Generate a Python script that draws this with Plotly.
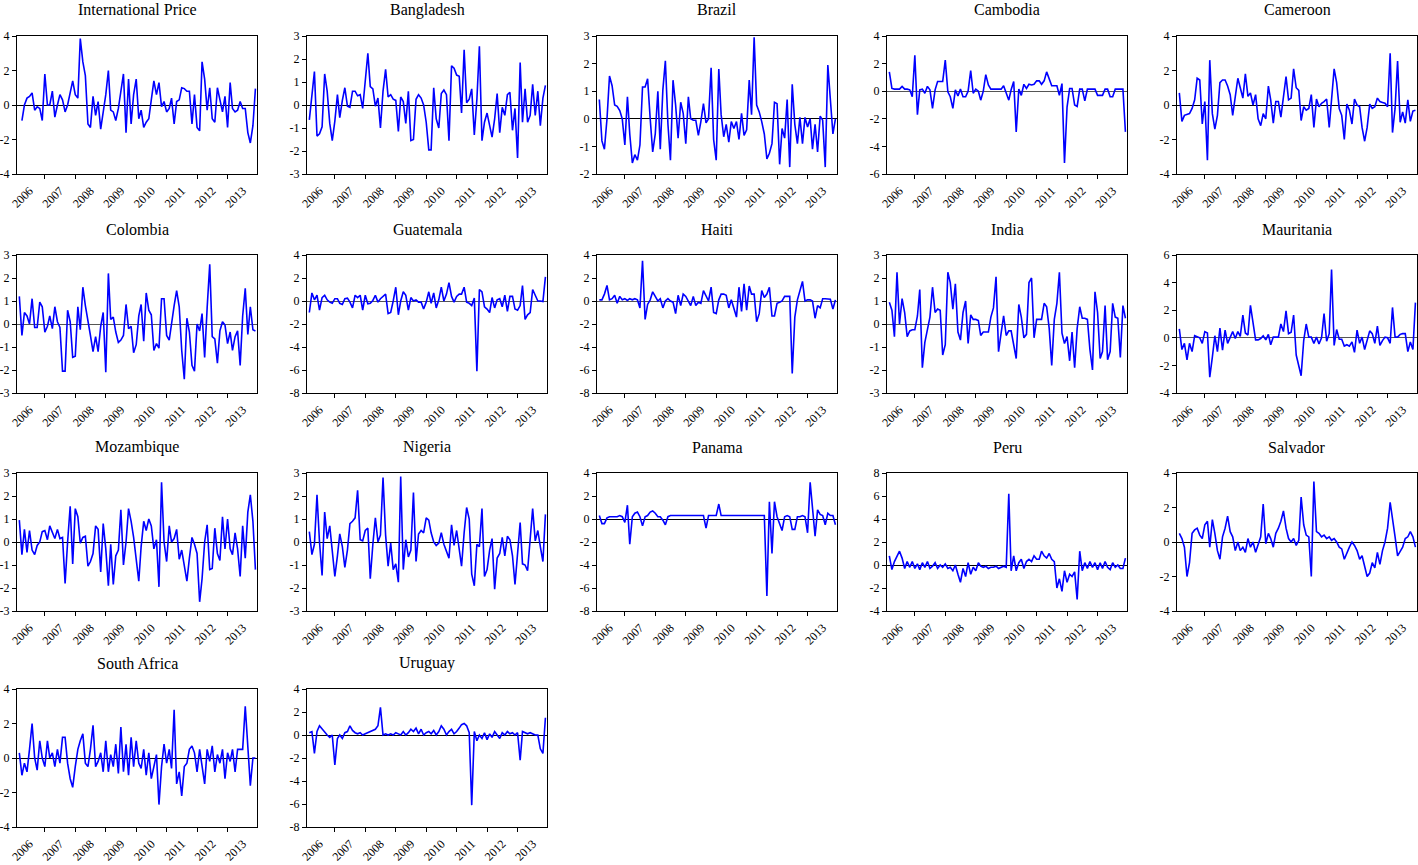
import plotly.graph_objects as go
import pandas as pd

# ---------------- data (monthly, ending 2013M12) ----------------
intl_price = [-0.9, 0, 0.4, 0.5, 0.7, -0.3, -0.1, -0.2, -0.9, 1.8,
              0.0, 0, 0.8, -0.7, 0, 0.6, 0.3, -0.4, 0, 0.7,
              1.4, 0.6, 0.4, 3.85, 2.5, 1.7, -1.1, -1.3, 0.5, -0.6,
              0.2, -1.4, -0.4, 0.6, 2.0, -0.3, -0.4, -0.9, -0.2, 0.9,
              1.8, -1.6, 1.5, -1.1, 0.6, 1.5, -0.8, -0.3, -1.3, -1.0,
              -0.8, 0.3, 1.4, 0.6, 1.3, -0.1, 0.2, -0.4, -0.2, 0.4,
              -1.1, 0.2, 0.3, 1.0, 0.95, 0.8, 0.8, -1.1, 0.6, -1.3,
              -1.5, 2.5, 1.5, -0.3, 1.0, -0.8, -1.0, 1.0, 0.4, -0.4,
              0.5, -1.3, 1.3, -0.2, -0.4, -0.3, 0.2, -0.2, -0.2, -1.6,
              -2.2, -1.2, 0.95]
bangladesh = [-0.65, 0.45, 1.45, -1.35, -1.25, -0.95, 1.35, 0.6, -0.8, -1.55,
              -0.7, 0.45, -0.55, 0.2, 0.75, -0.05, -0.1, 0.6, 0.6, 0.4,
              0.45, -0.15, 1.0, 2.25, 0.8, 0.7, -0.05, 0.3, -1.0, 0.6,
              1.55, 0.35, 0.45, 0.25, 0.2, -1.15, 0.35, 0.15, -0.8, 0.6,
              -1.55, -1.5, 0.25, 0.45, 0.3, 0.0, -0.75, -1.95, -1.95, 0.75,
              -0.6, -1.0, 0.5, 0.65, 0.45, -1.55, 1.7, 1.6, 1.3, 1.25,
              -0.35, 2.4, 0.1, 0.25, 0.7, -1.3, 0.25, 2.55, -1.55, -0.75,
              -0.35, -0.85, -1.4, -0.6, 0.5, -1.2, -0.1, -0.45, 0.45, 0.55,
              -1.1, -0.15, -2.3, 1.85, -0.75, 0.7, -0.75, -0.45, 0.9, -0.45,
              0.6, -0.9, 0.3, 0.85]
brazil = [0.7, -0.8, -1.1, 0, 1.55, 1.2, 0.5, 0.45, 0.3, 0,
          -0.95, 0.8, -0.55, -1.6, -1.3, -1.5, -0.95, 1.15, 1.15, 1.45,
          0, -1.2, -0.55, 1.0, -1.1, 1.05, 2.1, -0.2, -1.5, 1.4,
          0.5, -0.7, 0.6, 0.2, -0.9, 0.8, 0, -0.05, -0.05, -0.6,
          -0.1, 0.55, -0.15, 0, 1.85, -0.75, -1.5, 1.8, 0.15, -0.65,
          -0.2, -0.85, -0.1, -0.35, -0.1, -0.75, 0.2, -0.6, -0.4, 1.4,
          0.15, 2.95, 0.5, 0.25, -0.1, -0.55, -1.45, -1.25, -0.9, 0.6,
          0.55, -1.65, -0.35, -0.7, 0.7, -1.75, 1.25, -0.2, -0.9, 0.05,
          -0.9, 0.05, -0.3, 0, -1.1, -0.2, -1.2, 0.1, -0.05, -1.75,
          1.95, 0.75, -0.55, 0]
cambodia = [1.4, 0.2, 0.15, 0.15, 0.15, 0.35, 0.15, 0.15, 0.1, -0.4,
            2.6, -1.7, 0.1, 0.15, -0.15, 0.35, 0.1, -1.25, 0.1, 0.7,
            0.7, 0.7, 2.25, -0.05, -0.4, -1.25, 0.1, -0.35, 0.15, -0.4,
            -0.4, 0, 1.5, -0.15, 0.15, 0, -0.65, 0, 1.2, 0.45,
            0.15, 0.15, 0.15, 0.15, 0.15, 0.4, -0.1, -0.65, 0.1, 0.7,
            -2.95, 0.15, -0.3, 0.5, 0.2, 0.5, 0.45, 0.5, 0.75, 0.75,
            0.5, 0.75, 1.4, 0.9, 0.4, 0.4, 0.4, -0.3, 0.55, -5.2,
            -1.15, 0.2, 0.2, -1.0, -1.1, 0.15, 0.15, -0.7, 0.15, 0.15,
            0.15, 0.15, -0.3, -0.3, -0.3, 0.15, 0.15, -0.4, -0.4, 0.15,
            0.15, 0.15, 0.15, -2.95]
cameroon = [0.7, -0.95, -0.6, -0.55, -0.5, -0.2, 0.3, 1.55, 1.45, -1.1,
            0.2, -3.2, 2.6, -0.5, -1.4, -0.6, 1.3, 1.45, 1.45, 1.1,
            0.6, -0.6, 0.6, 1.55, 1.0, 0.4, 1.8, 0.5, 0.7, 0.0,
            0.6, -0.8, -1.2, -0.5, -0.8, 1.1, 0.3, -1.05, 0.2, 0.2,
            -0.7, 0.5, 1.65, 0.3, 0.4, 2.1, 1.0, 0.85, -0.9, -0.1,
            -0.3, -0.2, 0.6, -1.3, 0.35, -0.1, 0.1, 0.2, 0.35, -1.3,
            0.3, 2.1, 1.3, -0.2, -0.6, -2.0, 0.05, -0.3, -1.1, 0.35,
            0.0, -0.1, -1.3, -2.1, -1.3, 0.05, -0.2, -0.1, 0.4, 0.2,
            0.15, 0.1, -0.1, 3.0, -1.6, -0.2, 2.55, -1.0, -0.4, -1.05,
            0.3, -0.95, -0.35, -0.3]
colombia = [1.2, -0.5, 0.5, 0.35, 0.0, 1.1, -0.15, -0.15, 0.95, 0.75,
            -0.35, -0.1, 0.35, -0.2, 0.75, 0.1, -0.15, -2.05, -2.05, 0.6,
            0.1, -1.45, -1.4, 0.75, -0.25, 1.6, 0.8, 0.05, -0.5, -1.2,
            -0.55, -1.2, -0.1, 0.5, -2.1, 2.2, 0.2, 0.3, -0.35, -0.8,
            -0.7, -0.5, 0.85, -0.2, -0.1, -1.25, -0.9, 0.35, 0.85, -0.75,
            1.35, 0.6, 0.4, -1.15, -0.85, -1.05, 1.1, 1.1, -0.5, -0.7,
            0.1, 0.8, 1.45, 0.75, -1.15, -2.4, 0.25, -0.35, -1.8, -2.05,
            0.0, -0.3, 0.45, -1.45, 0.7, 2.6, -0.55, -0.65, -1.7, -0.3,
            0.1, -0.05, -0.85, -0.35, -1.15, -0.55, -0.3, -1.8, 0.35, 1.55,
            -0.45, 0.75, -0.25, -0.3]
guatemala = [-1.0, 0.7, 0.1, 0.5, -0.8, 0.3, 0.5, 0.1, -0.1, -0.2,
             0.2, 0.2, -0.2, -0.3, 0.2, 0.25, -0.1, -0.6, 0.5, 0.3,
             0.5, -0.8, 0.5, -0.25, -0.2, 0.05, 0.5, -0.1, 0.2, 0.4,
             0.6, -1.1, -1.0, 0.0, 1.2, -1.2, 0.0, 0.8, 0.5, -0.8,
             0.3, 0.0, 0.1, -0.1, -0.1, -0.7, -0.1, 0.8, -0.2, 0.7,
             -0.6, 0.1, 1.2, 0.0, 0.6, 1.6, 0.4, -0.1, 0.4, 0.6,
             0.6, 1.2, -0.1, -0.2, -0.4, 0.25, -6.1, 1.0, 0.8, -0.5,
             -0.7, -1.0, 0.3, -0.6, 0.1, 0.2, -0.5, 0.5, -0.9, 0.4,
             0.4, -0.7, -0.8, -0.4, 1.35, -1.6, -1.2, -1.0, 1.0, 0.5,
             0.0, 0.0, -0.05, 2.1]
haiti = [0.1, 0.1, 0.6, 1.35, 0.1, 0.2, 0.5, -0.2, 0.4, 0.1,
         0.2, 0.05, 0.2, 0.1, 0.2, 0.1, -0.6, 3.5, -1.6, -0.3,
         0.1, 0.8, 0.4, 0.0, 0.2, -0.6, 0.0, 0.2, 0.0, -0.1,
         -1.1, 0.5, -0.4, 0.6, 0.4, 0.0, -0.4, 0.4, -0.4, -0.1,
         -0.2, 0.9, 0.5, 0.0, 1.2, -1.0, -1.1, 0.1, 0.6, 0.6,
         0.5, -0.6, 0.1, -0.6, -1.4, 1.2, -0.9, 1.5, -0.8, 1.3,
         0.6, 0.6, -1.8, -1.1, 0.9, 0.3, 0.6, 1.2, -1.3, -1.3,
         -0.2, -0.1, 0.0, 0.4, 0.4, 0.4, -6.3, -1.4, 0.1, 1.0,
         1.7, 0.0, 0.1, 0.1, 0.0, -1.5, -0.4, -0.6, 0.2, 0.2,
         0.15, 0.15, -0.7, 0.1]
india = [0.95, 0.6, -0.55, 2.25, 0.0, 1.1, 0.5, -0.55, -0.3, -0.25,
         -0.25, 0.35, 1.5, -1.9, -0.8, -0.3, 0.3, 1.6, 0.5, 0.65,
         0.6, -1.35, -0.9, 2.25, 1.8, 0.65, 1.75, -0.35, -0.7, 0.5,
         1.0, -0.85, 0.4, 0.2, 0.2, 0.15, -0.5, -0.35, -0.35, -0.35,
         0.3, 0.7, 2.05, -1.2, -0.4, 0.35, -0.5, -0.3, -0.3, -0.9,
         -1.5, 0.85, 0.3, -0.6, -0.45, 1.8, 2.0, -0.6, 0.2, 0.2,
         0.2, 0.9, 0.75, -0.2, -1.8, 0.2, 0.9, 2.25, -0.4, -0.85,
         -0.55, -1.6, -0.35, -1.9, -0.2, 0.75, 0.25, 0.25, 0.2, -1.1,
         -2.0, 1.4, 0.5, -1.5, -1.2, 0.8, -1.55, -1.2, 0.9, 0.3,
         0.25, -1.45, 0.8, 0.25]
mauritania = [0.65, -0.85, -0.4, -1.6, -0.4, -1.0, 0.15, 0.1, 0.0, -0.4,
              0.45, 0.35, -2.85, -1.4, 0.15, -1.0, 0.7, -0.9, 0.55, -0.4,
              0.0, 0.45, -0.05, 0.45, 0.1, 1.65, 0.35, 0.2, 2.35, 0.9,
              -0.15, -0.15, -0.05, 0.15, -0.15, 0.25, -0.5, 0.05, 0.05, 0.05,
              1.0, 0.45, 1.95, 0.3, 0.4, 1.65, -1.25, -2.0, -2.75, -0.2,
              1.0, 0.05, 0.05, -0.4, 0.05, -0.45, 0.0, 1.75, -0.25, 0.3,
              4.95, -0.55, 0.6, -0.1, -0.1, -0.6, -0.5, -0.6, -0.3, -1.05,
              0.55, -0.4, 0.05, -0.85, -0.2, 0.5, 0.3, -0.4, 0.85, -0.55,
              -0.2, 0.05, 0.0, -0.4, 2.2, 0.05, 0.05, 0.25, 0.3, 0.3,
              -1.0, -0.3, -0.85, 2.55]
mozambique = [0.95, -0.55, 0.55, -0.45, 0.5, -0.35, -0.55, -0.15, 0.0, 0.45,
              0.5, 0.1, 0.7, 0.45, 0.15, 0.55, 0.15, 0.2, -1.8, 0.0,
              1.55, -0.95, 1.45, 1.1, -0.05, 0.2, 0.25, -1.05, -0.85, -0.5,
              0.7, 0.55, -1.3, 0.8, -0.3, -1.9, -0.1, -1.85, -0.6, -0.35,
              1.4, -1.0, 0.0, 1.45, 0.9, 0.2, -0.85, -1.7, -0.2, 0.9,
              0.5, 1.0, 0.7, -0.3, 0.1, -1.95, 2.6, 0.0, -0.85, 0.7,
              0.0, 0.15, 0.55, -0.75, -0.35, -1.0, -1.7, -0.7, 0.2, -0.1,
              -0.5, -2.6, -1.6, 0.0, 0.75, -1.2, -1.15, 0.6, -0.5, -0.8,
              1.1, -0.3, 1.0, -0.3, -0.55, 0.4, -0.3, -1.5, 0.7, -0.7,
              1.3, 2.05, 0.9, -1.2]
nigeria = [0.45, -0.55, -0.1, 2.05, 0.0, -1.45, 1.3, 0.15, 0.7, -0.5,
           -1.5, -0.6, 0.35, -0.2, -1.1, -0.35, 0.8, 0.9, 1.05, 2.25,
           0.1, 0.05, 0.5, 0.6, -1.6, -0.1, 1.05, 0.0, 0.3, 2.8,
           0.3, -1.05, -0.05, -1.2, -0.95, -1.75, 2.85, -1.2, 0.1, -0.65,
           -0.35, 2.15, -0.85, 0.35, 0.5, 0.4, 1.05, 0.95, 0.4, 0.0,
           -0.15, -0.05, 0.4, -0.1, -0.4, -0.7, 0.75, -0.15, 0.5, -0.4,
           -1.05, 0.4, 1.5, 1.0, -1.4, -1.9, -0.1, -0.2, 1.45, -1.5,
           -1.2, -0.35, 0.15, -2.05, -0.7, -0.5, 0.2, -0.6, 0.25, 0.1,
           -0.6, -1.85, -0.4, 0.85, -0.95, -1.0, -1.25, 0.1, 1.45, 0.05,
           0.5, -0.2, -0.85, 1.2]
panama = [0.3, -0.4, -0.4, 0.1, 0.2, 0.2, 0.2, 0.2, 0.3, 0.2,
          -0.3, 1.2, -2.2, 0.2, 0.5, 0.6, 0.2, -0.6, 0.2, 0.3,
          0.6, 0.7, 0.5, 0.2, 0.2, -0.1, -0.5, 0.2, 0.3, 0.3,
          0.3, 0.3, 0.3, 0.3, 0.3, 0.3, 0.3, 0.3, 0.3, 0.3,
          0.3, 0.3, -0.8, 0.3, 0.3, 0.3, 0.3, 1.3, 0.3, 0.3,
          0.3, 0.3, 0.3, 0.3, 0.3, 0.3, 0.3, 0.3, 0.3, 0.3,
          0.3, 0.3, 0.3, 0.3, 0.3, 0.3, -6.7, 1.5, -3.0, 1.5,
          0.2, -0.5, -1.0, 0.2, 0.3, 0.2, -0.9, -0.9, 0.2, 0.2,
          0.3, 0.2, -1.2, 3.2, 1.0, -1.5, 0.8, 0.4, 0.3, -0.5,
          0.5, 0.3, 0.3, -0.5]
peru = [0.8, -0.4, 0.3, 0.8, 1.2, 0.6, -0.3, 0.3, -0.2, 0.3,
        -0.3, 0.1, -0.4, 0.2, -0.2, 0.3, -0.3, -0.1, 0.2, -0.3,
        0.0, -0.2, 0.1, -0.3, -0.2, -0.5, 0.0, -0.8, -1.5, -0.3,
        -1.0, 0.2, -0.8, -0.2, -0.5, 0.2, -0.1, -0.2, -0.1, -0.3,
        -0.2, -0.2, -0.1, -0.3, -0.2, -0.1, -0.2, 6.2, -0.5, 0.8,
        -0.5, 0.2, 0.5, -0.3, 0.3, 0.5, 0.3, 0.8, 0.5, 0.5,
        1.2, 0.8, 0.6, 1.0, 0.5, 0.3, -2.0, -1.2, -2.3, -0.5,
        -1.5, -0.8, -1.0, -0.6, -3.0, 1.2, -0.5, 0.2, -0.3, 0.3,
        -0.2, 0.2, -0.4, 0.2, -0.3, 0.3, -0.2, -0.4, 0.2, -0.2,
        0.0, -0.3, -0.3, 0.6]
salvador = [0.5, 0.2, -0.3, -2.0, -1.2, 0.5, 0.7, 0.8, 0.4, 0.2,
            1.0, 1.2, -0.3, 1.3, 0.5, -0.5, -1.0, 0.3, 0.8, 1.5,
            0.6, 0.3, -0.5, 0.0, -0.5, -0.3, -0.6, 0.2, -0.3, 0.0,
            -0.6, -0.2, 0.3, 2.2, -0.1, 0.5, 0.2, -0.3, 0.5, 0.8,
            1.2, 1.8, 0.8, 0.2, 0.0, 0.2, -0.2, 0.1, 2.6, 1.0,
            0.4, 0.3, -2.0, 3.5, 0.6, 0.5, 0.3, 0.4, 0.2, 0.3,
            0.1, 0.2, 0.0, -0.3, -0.4, -1.0, -0.6, -0.3, 0.0, -0.2,
            -0.5, -1.0, -0.8, -1.5, -2.0, -1.8, -1.2, -1.5, -0.6, -1.3,
            -0.5, 0.0, 0.8, 2.3, 1.2, 0.3, -0.8, -0.5, -0.3, 0.2,
            0.3, 0.6, 0.3, -0.3]
south_africa = [0.3, -1.0, -0.3, -0.8, 0.5, 2.0, 0.0, -0.7, 1.0, 0.0,
                -0.5, 1.0, 0.0, 0.3, -0.5, 0.5, -0.3, 1.2, 1.2, -0.3,
                -1.2, -1.7, -0.5, 0.5, 1.0, 1.4, -0.3, -0.5, 0.5, 1.9,
                -0.5, -0.2, 0.3, -0.8, 1.0, -0.8, 0.2, -0.5, 0.8, -0.9,
                1.8, -0.8, 0.8, -1.0, 1.2, -0.5, 1.0, -0.3, -0.6, 0.5,
                -1.0, 0.3, -1.2, -0.5, 0.2, -2.7, -0.5, 0.8, -0.3, 0.5,
                -0.6, 2.8, -1.5, -0.8, -2.2, -0.5, -0.3, 0.5, 0.7, 0.3,
                -0.8, 0.5, -0.5, -1.5, 0.5, -0.2, 0.7, -0.8, 0.2, -0.3,
                0.5, -1.2, 0.3, -0.2, 0.5, -0.8, 0.5, 0.5, 0.5, 3.0,
                0.8, -1.6, 0.0, 0.0]
uruguay = [0.2, 0.3, -1.6, 0.3, 0.8, 0.5, 0.3, 0.0, -0.2, 0.0,
           -2.6, -0.3, 0.0, -0.3, 0.2, 0.3, 0.8, 0.4, 0.2, 0.1,
           0.2, 0.0, 0.1, 0.2, 0.3, 0.4, 0.5, 0.8, 2.4, 0.0,
           0.1, 0.0, 0.1, 0.0, 0.2, 0.1, 0.0, 0.3, 0.0, 0.2,
           0.5, 0.3, 0.6, 0.1, 0.5, 0.0, 0.2, 0.3, 0.1, 0.4,
           0.0, 0.3, 0.8, 0.5, 0.0, 0.3, 0.5, 0.1, 0.3, 0.6,
           0.9, 1.0, 0.8, 0.2, -6.1, 0.3, -0.5, 0.0, -0.3, 0.2,
           -0.4, 0.1, -0.2, 0.3, 0.0, -0.3, 0.2, 0.0, 0.3, 0.1,
           0.2, 0.0, 0.2, -2.2, 0.3, 0.2, 0.1, 0.2, 0.1, 0.0,
           0.0, -1.2, -1.6, 1.5]

titles = ["International Price", "Bangladesh", "Brazil", "Cambodia", "Cameroon",
          "Colombia", "Guatemala", "Haiti", "India", "Mauritania",
          "Mozambique", "Nigeria", "Panama", "Peru", "Salvador",
          "South Africa", "Uruguay"]
series_list = [intl_price, bangladesh, brazil, cambodia, cameroon,
               colombia, guatemala, haiti, india, mauritania,
               mozambique, nigeria, panama, peru, salvador,
               south_africa, uruguay]
y_min = [-4, -3, -2, -6, -4, -3, -8, -8, -3, -4, -3, -3, -8, -4, -4, -4, -8]
y_max = [4, 3, 3, 4, 4, 3, 4, 4, 3, 6, 3, 3, 4, 8, 4, 4, 4]
y_step = [2, 1, 1, 2, 2, 1, 2, 2, 1, 2, 1, 1, 2, 2, 2, 2, 2]
zero_color = ["black", "black", "black", "#555555", "black",
              "#555555", "#555555", "#555555", "#555555", "#555555",
              "black", "black", "black", "black", "black", "black", "black"]

# ---------------- layout ----------------
W, H = 1418, 865
col_left = [17, 307, 597, 887, 1177]
row_top = [36, 255, 473, 689]
PW, PH = 240, 138
FONT = "Liberation Serif, Times New Roman, serif"

fig = go.Figure()
annotations = []
for i, (title, vals) in enumerate(zip(titles, series_list)):
    r, c = divmod(i, 5)
    n = i + 1
    xs = "x" if n == 1 else f"x{n}"
    ys = "y" if n == 1 else f"y{n}"
    xk = "xaxis" if n == 1 else f"xaxis{n}"
    yk = "yaxis" if n == 1 else f"yaxis{n}"
    dates = pd.date_range(end="2013-12-01", periods=len(vals), freq="MS")
    fig.add_trace(go.Scatter(x=dates, y=vals, mode="lines",
                             line=dict(color="#0000FF", width=1.6),
                             xaxis=xs, yaxis=ys, showlegend=False,
                             hoverinfo="skip"))
    x0 = col_left[c] / W
    x1 = (col_left[c] + PW) / W
    y1 = 1 - row_top[r] / H
    y0 = 1 - (row_top[r] + PH) / H
    tv = list(range(y_min[i], y_max[i] + 1, y_step[i]))
    tt = [str(v) for v in tv]  # plain hyphen minus like the reference
    fig.layout[xk] = dict(domain=[x0, x1], anchor=ys, type="date",
                          range=["2006-02-01", "2013-12-20"],
                          tick0="2006-01-01", dtick="M12", tickformat="%Y",
                          ticklabelmode="period", tickangle=-45,
                          ticks="outside", ticklen=4, tickcolor="black",
                          showline=True, mirror=True, linecolor="black",
                          linewidth=1, showgrid=False, zeroline=False,
                          automargin=False,
                          tickfont=dict(family=FONT, size=12, color="black"))
    fig.layout[yk] = dict(domain=[y0, y1], anchor=xs,
                          range=[y_min[i], y_max[i]],
                          tickmode="array", tickvals=tv, ticktext=tt,
                          ticks="outside", ticklen=4, tickcolor="black",
                          showline=True, mirror=True, linecolor="black",
                          linewidth=1, showgrid=False, automargin=False,
                          zeroline=True, zerolinecolor=zero_color[i],
                          zerolinewidth=1.2,
                          tickfont=dict(family=FONT, size=12, color="black"))
    annotations.append(dict(text=title, xref=f"{xs} domain", yref=f"{ys} domain",
                            x=0.5, y=1, xanchor="center", yanchor="middle",
                            yshift=26, showarrow=False,
                            font=dict(family=FONT, size=16, color="black")))

fig.update_layout(width=W, height=H, margin=dict(l=0, r=0, t=0, b=0),
                  paper_bgcolor="white", plot_bgcolor="white",
                  annotations=annotations, font=dict(family=FONT),
                  template="none")

fig.write_html("out.html", config={"displayModeBar": False},
               post_script="document.body.style.margin='0';")
